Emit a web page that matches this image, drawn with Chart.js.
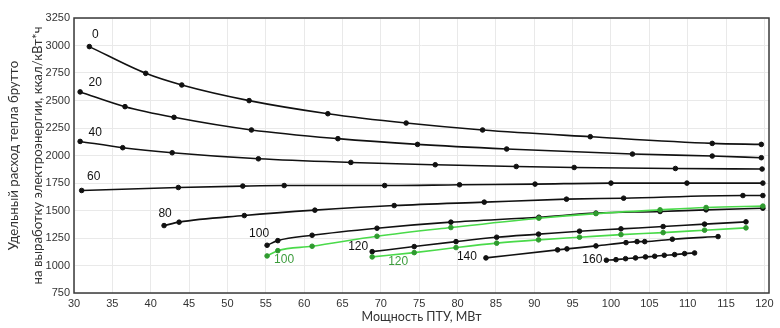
<!DOCTYPE html>
<html>
<head>
<meta charset="utf-8">
<script src="https://cdn.jsdelivr.net/npm/chart.js@4/dist/chart.umd.min.js"></script>
<style>
html,body{margin:0;padding:0;background:#fff;}
canvas{display:block;}
</style>
</head>
<body>
<canvas id="c" width="780" height="328"></canvas>
<script>
// ---- data ----
const xTicks = [30,35,40,45,50,55,60,65,70,75,80,85,90,95,100,105,110,115,120];
const yTicks = [750,1000,1250,1500,1750,2000,2250,2500,2750,3000,3250];

const x0 = [32.0, 39.35, 44.05, 52.83, 63.09, 73.3, 83.26, 97.3, 113.2, 119.6];
const y0 = [2990, 2747, 2641, 2499, 2380, 2295, 2232, 2171, 2110, 2101];

const x20 = [30.8, 36.65, 43.04, 53.13, 64.4, 74.78, 86.4, 102.8, 113.2, 119.6];
const y20 = [2578, 2444, 2347, 2232, 2153, 2101, 2059, 2013, 1995, 1980];

const x40 = [30.8, 36.35, 42.8, 54.04, 66.09, 77.09, 87.65, 95.2, 108.4, 119.7];
const y40 = [2128, 2071, 2025, 1970, 1937, 1916, 1900, 1891, 1882, 1877];

const x60 = [31.0, 43.6, 52.0, 57.4, 70.5, 80.26, 90.1, 100.0, 109.9, 119.8];
const y60 = [1682, 1709, 1722, 1727, 1727, 1734, 1740, 1749, 1749, 1749];

const x80 = [41.74, 43.7, 52.2, 61.4, 71.74, 83.48, 94.2, 101.65, 117.2, 119.8];
const y80 = [1363, 1394, 1454, 1503, 1545, 1576, 1603, 1612, 1636, 1636];

const x100 = [55.17, 56.57, 61.04, 69.5, 79.13, 90.6, 98.04, 106.4, 112.4, 119.8];
const y100 = [1184, 1226, 1275, 1339, 1394, 1439, 1476, 1491, 1506, 1521];
const y100g = [1087, 1135, 1175, 1266, 1345, 1430, 1472, 1506, 1527, 1540];

const x120 = [68.87, 74.35, 79.8, 85.1, 90.56, 95.9, 101.3, 106.8, 112.2, 117.6];
const y120 = [1126, 1172, 1217, 1257, 1285, 1312, 1333, 1354, 1376, 1397];
const y120g = [1078, 1117, 1163, 1203, 1233, 1257, 1281, 1299, 1321, 1342];

const x140 = [83.7, 93.04, 94.26, 98.04, 101.96, 103.4, 104.4, 108.0, 113.96];
const y140 = [1069, 1142, 1151, 1178, 1208, 1217, 1217, 1239, 1263];

const x160 = [99.4, 100.65, 101.9, 103.2, 104.5, 105.7, 106.95, 108.3, 109.6, 110.9];
const y160 = [1048, 1053, 1062, 1069, 1078, 1084, 1093, 1099, 1108, 1114];

const seriesLabels = ['0','20','40','60','80','100','100','120','120','140','160'];

// ---- build ----
const pts = (xs, ys) => xs.map((x, i) => ({x: x, y: ys[i]}));
const BLACK = '#111111';
const GREEN = '#4ada4a';
const GREEN_PT = '#2f9a2f';
const GREEN_TXT = '#3c9c3c';

function ds(label, data, color, ptColor, txtColor, off) {
  return {
    label: label, data: data,
    borderColor: color, backgroundColor: ptColor,
    pointBackgroundColor: ptColor, pointBorderColor: ptColor,
    borderWidth: 1.6, pointRadius: 2.3, pointHoverRadius: 2.3, pointBorderWidth: 1,
    cubicInterpolationMode: 'monotone', fill: false,
    tagColor: txtColor, tagOffset: off
  };
}

const datasets = [
  ds(seriesLabels[0], pts(x0, y0), BLACK, BLACK, '#111', [6, -12]),
  ds(seriesLabels[1], pts(x20, y20), BLACK, BLACK, '#111', [15, -9]),
  ds(seriesLabels[2], pts(x40, y40), BLACK, BLACK, '#111', [15, -9]),
  ds(seriesLabels[3], pts(x60, y60), BLACK, BLACK, '#111', [12, -14]),
  ds(seriesLabels[4], pts(x80, y80), BLACK, BLACK, '#111', [1, -12]),
  ds(seriesLabels[6], pts(x100, y100g), GREEN, GREEN_PT, GREEN_TXT, [17, 4]),
  ds(seriesLabels[5], pts(x100, y100), BLACK, BLACK, '#111', [-8, -12]),
  ds(seriesLabels[8], pts(x120, y120g), GREEN, GREEN_PT, GREEN_TXT, [26, 5]),
  ds(seriesLabels[7], pts(x120, y120), BLACK, BLACK, '#111', [-14, -5]),
  ds(seriesLabels[9], pts(x140, y140), BLACK, BLACK, '#111', [-19, -1]),
  ds(seriesLabels[10], pts(x160, y160), BLACK, BLACK, '#111', [-14, -1])
];

const tagPlugin = {
  id: 'tags',
  afterDatasetsDraw(chart) {
    const ctx = chart.ctx;
    ctx.save();
    ctx.font = '12px "Liberation Sans", Arial, sans-serif';
    ctx.textAlign = 'center';
    ctx.textBaseline = 'middle';
    chart.data.datasets.forEach((d, i) => {
      const el = chart.getDatasetMeta(i).data[0];
      ctx.fillStyle = d.tagColor;
      ctx.fillText(d.label, el.x + d.tagOffset[0], el.y + d.tagOffset[1]);
    });
    ctx.restore();
  }
};

const framePlugin = {
  id: 'frame',
  afterDraw(chart) {
    const a = chart.chartArea, ctx = chart.ctx;
    ctx.save();
    ctx.strokeStyle = '#3a3a3a';
    ctx.lineWidth = 1.5;
    ctx.strokeRect(a.left, a.top, a.right - a.left, a.bottom - a.top);
    ctx.restore();
  }
};

const tickFont = {family: '"Liberation Sans", Arial, sans-serif', size: 11};

new Chart(document.getElementById('c'), {
  type: 'line',
  data: {datasets: datasets},
  options: {
    responsive: false,
    animation: false,
    devicePixelRatio: 1,
    layout: {padding: {top: 18, right: 11, left: 0, bottom: 0}},
    plugins: {legend: {display: false}, tooltip: {enabled: false}},
    scales: {
      x: {
        type: 'linear', min: 30, max: 120.6,
        afterBuildTicks: (s) => { s.ticks = xTicks.map(v => ({value: v})); },
        afterFit: (s) => { s.height = 35; },
        grid: {color: '#e9e9e9', drawTicks: false},
        border: {display: false},
        ticks: {font: tickFont, color: '#333', padding: 4, maxRotation: 0, autoSkip: false,
                callback: (v) => String(v)},
        title: {display: true, text: 'Мощность ПТУ, МВт', color: '#333',
                font: {family: 'Lato, sans-serif', size: 12.5}, padding: {top: 0, bottom: 4}}
      },
      y: {
        type: 'linear', min: 750, max: 3250,
        afterBuildTicks: (s) => { s.ticks = yTicks.map(v => ({value: v})); },
        afterFit: (s) => { s.width = 74; },
        grid: {color: '#e9e9e9', drawTicks: false},
        border: {display: false},
        ticks: {font: tickFont, color: '#333', padding: 4, callback: (v) => String(v)},
        title: {display: true,
                text: ['Удельный расход тепла брутто', 'на выработку электроэнергии, ккал/кВт*ч'],
                color: '#333',
                font: {family: 'Lato, sans-serif', size: 13.2, lineHeight: 1.82},
                padding: {top: 2, bottom: 0}}
      }
    }
  },
  plugins: [tagPlugin, framePlugin]
});
</script>
</body>
</html>
